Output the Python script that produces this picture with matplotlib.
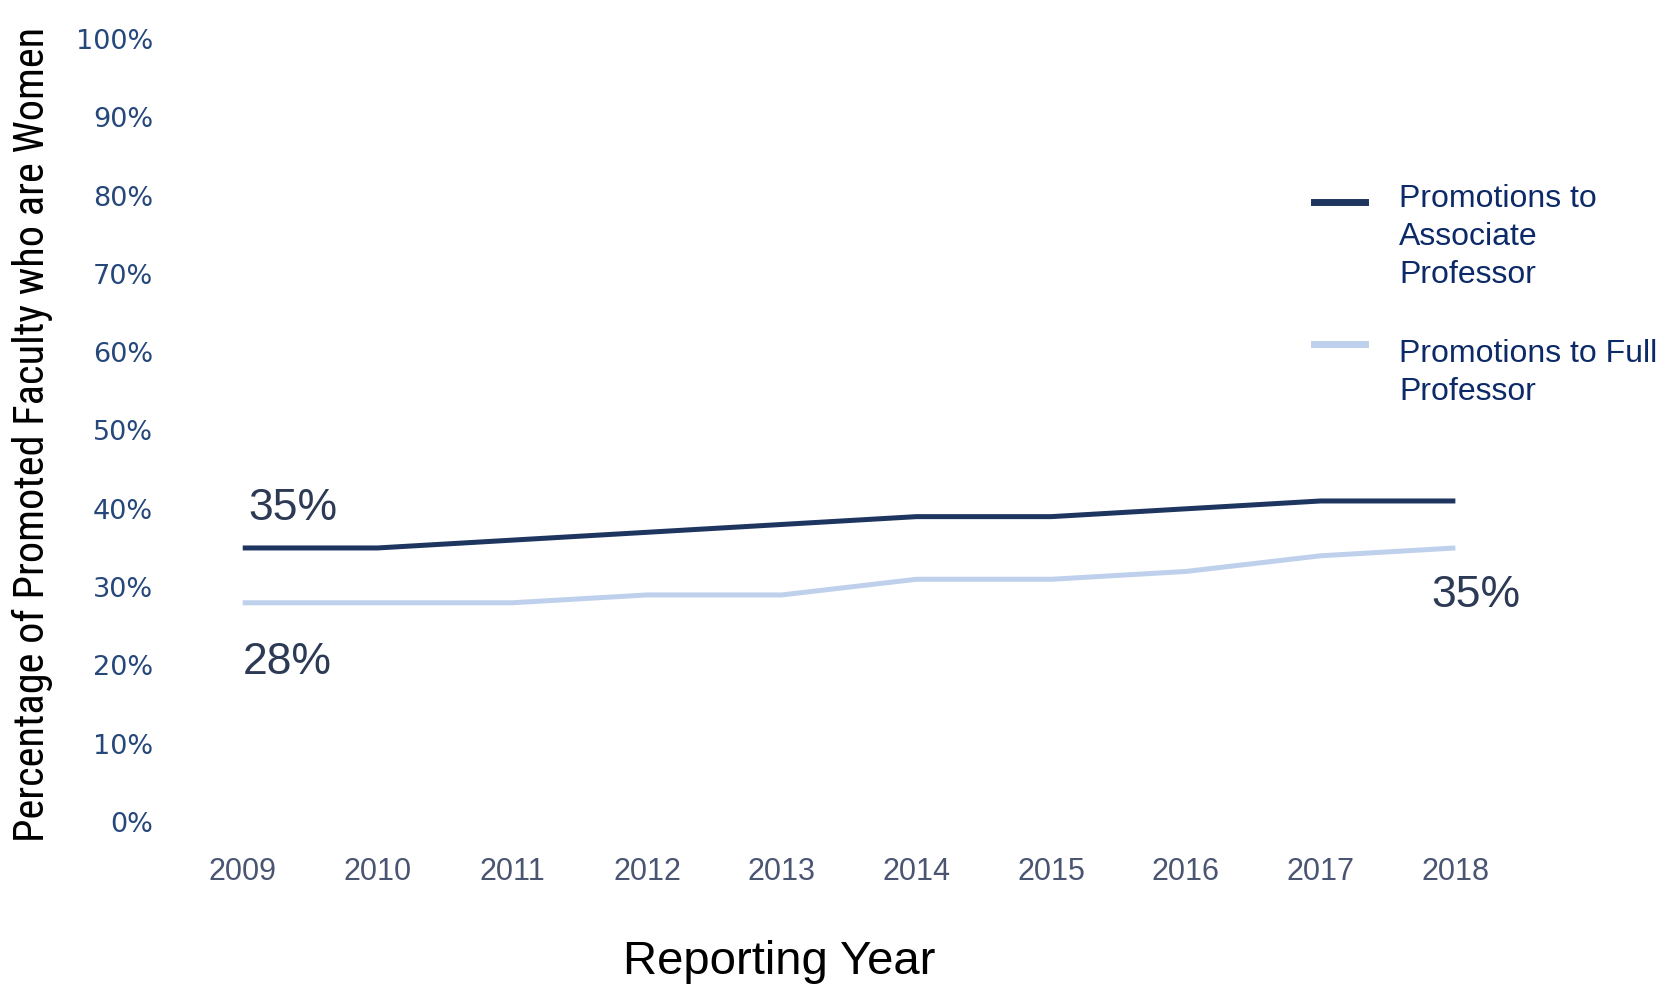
import matplotlib.pyplot as plt

# Share of promoted faculty who are women, by reporting year (%)
years = [2009, 2010, 2011, 2012, 2013, 2014, 2015, 2016, 2017, 2018]
associate = [35, 35, 36, 37, 38, 39, 39, 40, 41, 41]
full_prof = [28, 28, 28, 29, 29, 31, 31, 32, 34, 35]
y_ticks = [0, 10, 20, 30, 40, 50, 60, 70, 80, 90, 100]

dark = '#1e3560'
light = '#bfd0ec'
narrow = ['Liberation Sans Narrow', 'Roboto Condensed', 'Open Sans Condensed',
          'Liberation Sans']

fig = plt.figure(figsize=(16.68, 9.84), dpi=100)
ax = fig.add_axes([0.1019, 0.1646, 0.8094, 0.7958])

ax.plot(years, associate, color=dark, linewidth=3.6, solid_capstyle='butt')
ax.plot(years, full_prof, color=light, linewidth=3.6, solid_capstyle='butt')

ax.set_xlim(2008.46, 2018.48)
ax.set_ylim(0, 100)
ax.set_xticks(years)
ax.set_xticklabels([str(y) for y in years], family='Liberation Sans',
                   fontsize=22, color='#4a5572')
ax.set_yticks(y_ticks)
ax.set_yticklabels([f'{t}%' for t in y_ticks], family='DejaVu Sans',
                   fontsize=19.5, color='#25477a')
ax.tick_params(axis='both', length=0)
ax.tick_params(axis='y', pad=12)
ax.tick_params(axis='x', pad=25)
for s in ax.spines.values():
    s.set_visible(False)

# value labels at both ends
lab = dict(fontsize=32, color='#2d3a55', ha='left', va='center',
           family='Liberation Sans')
ax.text(years[0] + 0.04, associate[0] + 5.0, f'{associate[0]}%', **lab)
ax.text(years[0], full_prof[0] - 7.6, f'{full_prof[0]}%', **lab)
ax.text(years[-1] - 0.18, full_prof[-1] - 6.1, f'{full_prof[-1]}%',
        clip_on=True, **lab)

fig.text(0.0192, 0.558, 'Percentage of Promoted Faculty who are Women',
         rotation=90, ha='center', va='center', fontsize=30.5,
         family=narrow, color='black')
fig.text(0.467, 0.022, 'Reporting Year', ha='center', va='center',
         fontsize=34, family='Liberation Sans', color='black')

# legend drawn by hand to keep the wrapped labels
leg = dict(fontsize=23, family='Liberation Sans', color='#0d2a68',
           ha='left', va='top', linespacing=1.34, transform=fig.transFigure)
fig.add_artist(plt.Line2D([1314 / 1668, 1365 / 1668], [1 - 202 / 984, 1 - 202 / 984],
                          color=dark, linewidth=5, transform=fig.transFigure))
fig.add_artist(plt.Line2D([1314 / 1668, 1365 / 1668], [1 - 344 / 984, 1 - 344 / 984],
                          color=light, linewidth=5, transform=fig.transFigure))
fig.text(1399 / 1668, 1 - 184 / 984, 'Promotions to\nAssociate\nProfessor', **leg)
fig.text(1399 / 1668, 1 - 339 / 984, 'Promotions to Full\nProfessor', **leg)

fig.savefig('out.png', dpi=100)
